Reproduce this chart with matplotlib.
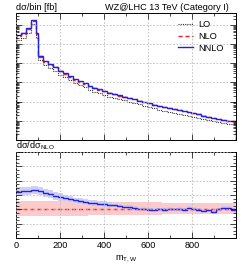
import numpy as np
import matplotlib
matplotlib.use("Agg")
import matplotlib.pyplot as plt
from matplotlib.ticker import MultipleLocator, LogLocator, NullFormatter, FixedLocator
from matplotlib.lines import Line2D

plt.rcParams['font.family'] = ['Liberation Sans', 'DejaVu Sans']
plt.rcParams['mathtext.fontset'] = 'custom'
plt.rcParams['mathtext.rm'] = 'Liberation Sans'
plt.rcParams['mathtext.it'] = 'Liberation Sans:italic'

# ---------------- data ----------------
bin_edges = np.concatenate([[0, 22.5, 45, 67.5, 90], np.arange(100, 1000.1, 22.5)])

nnlo = [29.4, 38.8, 65.8, 167, 36.1, 2.46, 1.30, 0.908, 0.658, 0.406,
        0.298, 0.215, 0.145, 0.114, 0.0897, 0.0673, 0.0530, 0.0438, 0.0356, 0.0291,
        0.0240, 0.0208, 0.0182, 0.0154, 0.0132, 0.0113, 0.00953, 0.00826, 0.00698, 0.00590,
        0.00505, 0.00438, 0.00388, 0.00344, 0.00313, 0.00281, 0.00246, 0.00213, 0.00182, 0.00158,
        0.00136, 0.00124, 0.00113, 0.00102, 0.000931]

lo = [15.2, 20.1, 36.1, 110, 21.0, 1.43, 0.767, 0.542, 0.395, 0.244,
      0.180, 0.130, 0.0885, 0.0695, 0.0549, 0.0414, 0.0327, 0.0271, 0.0221, 0.0181,
      0.0150, 0.0131, 0.0115, 0.00973, 0.00838, 0.00721, 0.00610, 0.00531, 0.00451, 0.00383,
      0.00329, 0.00287, 0.00255, 0.00227, 0.00208, 0.00187, 0.00165, 0.00143, 0.00123, 0.00107,
      0.000928, 0.000849, 0.000777, 0.000705, 0.000647]

# NNLO / NLO ratio (lower panel)
ratio_nnlo = [1.123, 1.125, 1.128, 1.132, 1.135, 1.125, 1.112, 1.104, 1.093, 1.085,
              1.078, 1.070, 1.062, 1.056, 1.052, 1.047, 1.043, 1.040, 1.036, 1.030,
              1.028, 1.024, 1.019, 1.015, 1.010, 1.005, 1.003, 0.998, 0.995, 1.000,
              0.998, 1.002, 0.999, 1.001, 0.997, 1.008, 1.004, 0.994, 0.990, 0.992,
              0.978, 1.000, 1.010, 1.012, 0.996]

# relative scale-uncertainty bands
nlo_band_up = [0.055]*15 + [0.050]*15 + [0.047]*15
nlo_band_dn = [0.045]*15 + [0.040]*15 + [0.035]*15
nnlo_band_up = [0.030]*10 + [0.020]*10 + [0.012]*25
nnlo_band_dn = [0.025]*10 + [0.018]*10 + [0.010]*25

xticks = [0, 200, 400, 600, 800]

# ---------------- derived ----------------
nnlo = np.array(nnlo)
lo = np.array(lo)
ratio_nnlo = np.array(ratio_nnlo)
nlo = nnlo / ratio_nnlo
nlo_up = 1 + np.array(nlo_band_up)
nlo_dn = 1 - np.array(nlo_band_dn)
nnlo_r_up = ratio_nnlo + np.array(nnlo_band_up)
nnlo_r_dn = ratio_nnlo - np.array(nnlo_band_dn)

RED = '#ee2222'
BLUE = '#2222dd'
RED_BAND = '#fbcaca'
BLUE_BAND = '#c8c8f6'
FS = 6.6

W, H = 245, 268
fig = plt.figure(figsize=(W/100, H/100), dpi=100)
ax1 = fig.add_axes([16/W, 128/H, 220/W, 127/H])
ax2 = fig.add_axes([16/W, 30/H, 220/W, 86/H])

# top panel
ax1.stairs(nlo*nlo_up, bin_edges, baseline=nlo*nlo_dn, fill=True, color=RED_BAND, alpha=0.6, lw=0)
ax1.stairs(nnlo*(1+np.array(nnlo_band_up)/ratio_nnlo), bin_edges,
           baseline=nnlo*(1-np.array(nnlo_band_dn)/ratio_nnlo), fill=True, color=BLUE_BAND, alpha=0.6, lw=0)
ax1.stairs(lo, bin_edges, baseline=1e-6, color='#333333', lw=0.8, ls=(0, (1, 1)))
ax1.stairs(nlo, bin_edges, baseline=1e-6, color=RED, lw=1.0, ls=(0, (3, 2)))
ax1.stairs(nnlo, bin_edges, baseline=1e-6, color=BLUE, lw=1.0)
ax1.set_yscale('log')
ax1.set_ylim(1e-4, 10**2.61)
ax1.set_xlim(0, 1000)

# bottom panel
ax2.stairs(nlo_up, bin_edges, baseline=nlo_dn, fill=True, color=RED_BAND, lw=0)
ax2.stairs(nnlo_r_up, bin_edges, baseline=nnlo_r_dn, fill=True, color=BLUE_BAND, lw=0, alpha=0.85)
ax2.stairs(nlo/nlo, bin_edges, baseline=None, color=RED, lw=1.0, ls=(0, (3, 2)))
ax2.stairs(ratio_nnlo, bin_edges, baseline=None, color=BLUE, lw=1.0)
ax2.set_xlim(0, 1000)
ax2.set_ylim(0.8, 1.4)

for ax in (ax1, ax2):
    ax.xaxis.set_major_locator(FixedLocator(xticks))
    ax.xaxis.set_minor_locator(MultipleLocator(100))
    ax.tick_params(which='both', direction='in', top=True, right=True, width=0.5, labelsize=FS, pad=2)
    ax.tick_params(which='major', length=4)
    ax.tick_params(which='minor', length=2)
    ax.grid(True, which='major', color='#bbbbbb', lw=0.6, ls=(0, (2, 2)))
    ax.set_axisbelow(False)
    for s in ax.spines.values():
        s.set_linewidth(0.7)

ax1.yaxis.set_major_locator(LogLocator(base=10, numticks=20))
ax1.yaxis.set_minor_locator(LogLocator(base=10, subs=np.arange(2, 10), numticks=50))
ax1.tick_params(labelbottom=False, labelleft=False, which='both')
ax1.yaxis.set_minor_formatter(NullFormatter())

ax2.yaxis.set_major_locator(MultipleLocator(0.1))
ax2.yaxis.set_minor_locator(MultipleLocator(0.025))
ax2.tick_params(labelleft=False, which='both')

# grid lines drawn below data
for ax in (ax1, ax2):
    for gl in ax.get_xgridlines() + ax.get_ygridlines():
        gl.set_zorder(0.5)

# texts
fig.text(16/W, 1 - 9.5/H, 'dσ/bin [fb]', fontsize=FS, ha='left', va='baseline')
fig.text(229/W, 1 - 9.5/H, 'WZ@LHC 13 TeV (Category I)', fontsize=FS, ha='right', va='baseline')
fig.text(16/W, 1 - 148.5/H, r'dσ/dσ$_{\mathrm{NLO}}$', fontsize=FS, ha='left', va='baseline')
fig.text(126/W, 1 - 260/H, r'm$_{\mathrm{T,W}}$', fontsize=FS, ha='center', va='baseline')

handles = [Line2D([], [], color='#333333', lw=0.8, ls=(0, (1, 1))),
           Line2D([], [], color=RED, lw=1.0, ls=(0, (3, 2))),
           Line2D([], [], color=BLUE, lw=1.0)]
ax1.legend(handles, ['LO', 'NLO', 'NNLO'], loc='upper left', bbox_to_anchor=(178/W, 1 - 20.4/H),
           bbox_transform=fig.transFigure, frameon=False, fontsize=FS, handlelength=1.6,
           handletextpad=0.6, labelspacing=0.28, borderpad=0, borderaxespad=0)

fig.savefig('out.png', dpi=100)
